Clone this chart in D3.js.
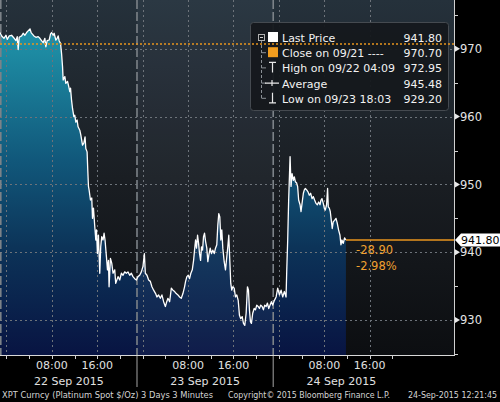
<!DOCTYPE html>
<html><head><meta charset="utf-8">
<script src="https://cdn.jsdelivr.net/npm/d3@7/dist/d3.min.js"></script>
<style>html,body{margin:0;padding:0;background:#000;} svg{display:block;font-family:"DejaVu Sans",sans-serif;}</style>
</head><body><svg id="c" width="500" height="402"></svg>
<script>
// hours since 22 Sep 2015 00:00
const hours=[-1.14,-0.84,-0.44,-0.09,0.14,0.49,0.91,1.32,1.67,1.90,2.07,2.25,2.67,2.95,3.25,3.55,4.15,4.35,4.54,4.84,5.19,5.59,5.89,6.19,6.47,6.77,6.94,7.17,7.53,7.77,7.95,8.23,8.40,8.70,8.93,9.11,9.28,9.53,9.71,9.88,9.99,10.29,10.46,10.76,10.99,11.16,11.29,11.46,11.64,11.74,11.87,12.04,12.22,12.45,12.62,12.92,13.10,13.40,13.63,13.85,13.98,14.21,14.33,14.45,14.56,14.80,15.03,15.16,15.33,15.56,15.74,15.86,16.03,16.21,16.44,16.61,16.79,17.02,17.20,17.37,17.62,17.80,17.97,18.08,18.32,18.55,18.78,19.08,19.25,19.66,19.96,20.25,20.54,20.83,21.13,21.41,21.71,22.01,22.29,22.59,22.89,23.17,23.47,23.77,24.05,24.30,24.47,24.76,25.05,25.35,25.63,25.93,26.28,26.51,26.81,27.11,27.39,27.69,28.00,28.17,28.45,28.75,29.05,29.33,29.63,29.92,30.21,30.51,30.80,31.09,31.38,31.56,31.79,32.03,32.26,32.49,32.74,32.97,33.14,33.32,33.49,33.67,33.85,34.02,34.20,34.37,34.55,34.72,34.90,35.08,35.30,35.48,35.66,35.90,36.13,36.36,36.61,36.83,37.06,37.24,37.41,37.59,37.77,37.94,38.12,38.36,38.59,38.82,39.00,39.17,39.35,39.52,39.70,39.88,40.12,40.35,40.58,40.83,41.05,41.28,41.53,41.76,41.99,42.23,42.46,42.64,42.81,42.99,43.16,43.39,43.64,43.87,44.10,44.34,44.57,44.80,45.05,45.27,45.50,45.75,45.98,46.21,46.45,46.68,46.91,47.21,47.51,47.79,48.09,48.39,48.67,48.96,49.26,49.37,49.55,49.72,49.97,50.14,50.32,50.55,50.72,50.90,51.13,51.30,51.48,51.73,51.90,52.08,52.31,52.48,52.66,52.89,53.13,53.36,53.59,53.84,54.07,54.29,54.54,54.77,55.00,55.24,55.42,55.59,55.82,56.00,56.17,56.40,56.58,56.70,56.88,57.05,57.23,57.40,57.58,57.81,58.06,58.28,58.51,58.76,58.93,59.11,59.34,59.57,59.81];
const prices=[972.4,971.9,971.55,972.0,971.4,971.9,972.0,971.6,971.2,971.8,969.9,971.7,971.9,972.3,972.0,972.4,972.95,972.4,972.2,971.9,971.7,971.8,971.55,971.2,970.9,971.55,970.3,971.2,971.3,972.2,972.4,972.0,972.3,971.3,971.55,971.9,971.2,970.8,969.3,967.4,965.4,965.9,964.9,965.2,964.4,963.7,964.2,962.5,961.2,960.7,960.0,960.2,959.2,959.5,958.5,958.0,957.3,955.8,956.1,957.0,955.3,954.8,952.1,949.7,949.2,947.7,948.0,945.0,946.5,943.8,941.8,943.3,939.8,942.5,936.9,940.8,942.3,941.8,942.8,941.8,939.3,937.4,938.8,934.9,939.1,938.4,936.9,937.4,935.4,936.4,935.9,936.9,936.6,937.1,936.9,937.1,936.6,936.9,936.4,936.1,935.9,936.4,936.6,937.1,937.9,939.8,936.9,936.6,935.9,935.7,934.9,934.4,933.9,933.4,933.7,933.2,933.7,932.7,932.0,932.5,933.2,932.7,934.7,934.4,934.2,933.9,933.7,933.4,933.2,933.9,934.9,935.7,936.4,936.6,936.1,936.9,937.4,938.8,940.3,941.8,940.6,942.5,941.3,939.8,938.8,940.8,940.3,942.3,942.8,941.6,940.6,938.6,939.6,940.6,939.8,940.3,939.8,940.6,941.1,944.0,945.7,945.2,941.8,943.3,940.6,938.6,937.4,939.3,940.8,942.5,938.8,935.4,934.4,934.9,934.7,933.4,933.7,932.9,930.7,930.2,930.5,929.5,929.2,931.0,934.9,934.4,931.5,929.75,929.5,931.0,931.7,931.5,932.2,932.0,931.7,932.2,932.0,931.5,932.2,932.0,932.5,931.7,932.2,932.7,932.2,932.9,933.4,934.7,933.7,934.4,933.4,934.2,933.4,936.9,941.8,947.7,954.1,949.7,951.6,950.6,951.1,950.4,950.2,949.7,947.7,947.0,946.0,947.2,948.7,949.2,949.4,949.2,948.9,948.4,948.7,947.9,948.2,947.7,947.2,947.0,947.4,947.0,947.7,947.9,947.2,946.5,946.2,947.0,949.4,946.7,946.5,946.0,944.7,943.5,944.5,944.7,945.0,944.3,943.3,942.5,941.1,941.8,941.3,942.1,941.8];
const yTicks=[930,940,950,960,970];
const yMinor=[925,935,945,955,965,975];
const sessionStarts=[-1,23,47];          // day boundaries (hours)
const sessionEnd=71;
const dayLabels=["22 Sep 2015","23 Sep 2015","24 Sep 2015"];
const hourLabels={8:"08:00",16:"16:00"};
const legendLabels=["Last Price","Close on 09/21 ----","High on 09/22 04:09","Average","Low on 09/23 18:03"];
const legendValues=["941.80","970.70","972.95","945.48","929.20"];
const lastPrice=941.80, prevClose=970.70;
const changeLabels=["-28.90","-2.98%"];
const footer=["XPT Curncy (Platinum Spot  $/Oz) 3 Days 3 Minutes","Copyright\u00a9 2015 Bloomberg Finance L.P.","24-Sep-2015 12:21:45"];

const t0=new Date(2015,8,22,0,0,0);
const T=h=>new Date(+t0+h*3600e3);
const W=454, H=355;
const x=d3.scaleTime().domain([T(-1.136),T(78.85)]).range([0,W]);
const y=d3.scaleLinear().domain([924.84,977.2]).range([H,0]);
const data=hours.map((h,i)=>({t:T(h),v:prices[i]}));

const svg=d3.select("#c");
svg.append("rect").attr("width",500).attr("height",402).attr("fill","#000");
const defs=svg.append("defs");
const bg=defs.append("linearGradient").attr("id","bg").attr("gradientUnits","userSpaceOnUse").attr("x1",0).attr("y1",0).attr("x2",0).attr("y2",H);
[[0,"#25313b"],[0.5,"#1a1e23"],[1,"#0c0e11"]].forEach(s=>bg.append("stop").attr("offset",s[0]).attr("stop-color",s[1]));
const ag=defs.append("linearGradient").attr("id","ag").attr("gradientUnits","userSpaceOnUse").attr("x1",0).attr("y1",0).attr("x2",0).attr("y2",H);
[[0,"#2398ae"],[0.15,"#1d8aa2"],[0.45,"#11587b"],[0.7,"#0c3358"],[1,"#081442"]].forEach(s=>ag.append("stop").attr("offset",s[0]).attr("stop-color",s[1]));

svg.append("rect").attr("x",0).attr("y",0).attr("width",W).attr("height",H).attr("fill","url(#bg)");

// area + line
svg.append("path").datum(data).attr("fill","url(#ag)")
  .attr("d",d3.area().x(d=>x(d.t)).y0(H).y1(d=>y(d.v)));
// day 2 shade
svg.append("rect").attr("x",x(T(sessionStarts[1]))).attr("y",0)
  .attr("width",x(T(sessionStarts[2]))-x(T(sessionStarts[1]))).attr("height",H)
  .attr("fill","rgb(160,170,210)").attr("opacity",0.06);

// grid
const grid=svg.append("g").attr("stroke","#6d737a").attr("stroke-width",1).attr("stroke-dasharray","2,3");
yTicks.forEach(v=>grid.append("line").attr("x1",0).attr("x2",W).attr("y1",Math.round(y(v))+0.5).attr("y2",Math.round(y(v))+0.5));
d3.timeHour.every(8).range(T(0),T(sessionEnd)).forEach(d=>{
  const xx=Math.round(x(d))+0.5;
  grid.append("line").attr("x1",xx).attr("x2",xx).attr("y1",0).attr("y2",H);
});
// session separators
sessionStarts.forEach(h=>{
  const xx=Math.max(0.8,x(T(h)));
  svg.append("line").attr("x1",xx).attr("x2",xx).attr("y1",0).attr("y2",H)
    .attr("stroke","#7c8288").attr("stroke-width",1.6).attr("stroke-dasharray","9,3");
  if(h>0) svg.append("line").attr("x1",xx).attr("x2",xx).attr("y1",H).attr("y2",387)
    .attr("stroke","#8a8a8a").attr("stroke-width",1.2);
});

svg.append("path").datum(data).attr("fill","none").attr("stroke","#fff").attr("stroke-width",1.3)
  .attr("stroke-linejoin","round").attr("d",d3.line().x(d=>x(d.t)).y(d=>y(d.v)));

// last price line
const last=data[data.length-1];
svg.append("line").attr("x1",x(last.t)).attr("x2",W).attr("y1",y(lastPrice)).attr("y2",y(lastPrice))
  .attr("stroke","#e8951e").attr("stroke-width",1.4);
changeLabels.forEach((s,i)=>svg.append("text").attr("x",356).attr("y",254+i*16).attr("fill","#f0a030")
  .attr("font-size",11.5).text(s));

// legend
const lg=svg.append("g");
lg.append("rect").attr("x",250.5).attr("y",22.5).attr("width",198).attr("height",88).attr("rx",3)
  .attr("fill","#15181c").attr("fill-opacity",0.95).attr("stroke","#454a50");
// previous close dotted line (above legend box)
svg.append("line").attr("x1",0).attr("x2",W).attr("y1",y(prevClose)).attr("y2",y(prevClose))
  .attr("stroke","#e8951e").attr("stroke-width",1.6).attr("stroke-dasharray","2,2");
const lg2=svg.append("g");
const rowY=i=>37+i*15.2;
lg2.append("line").attr("x1",261.5).attr("x2",261.5).attr("y1",40).attr("y2",rowY(4)+1)
  .attr("stroke","#8a8f95").attr("stroke-dasharray","3,2");
lg2.append("rect").attr("x",258.5).attr("y",34.5).attr("width",6).attr("height",6).attr("fill","#15181c").attr("stroke","#b0b0b0");
lg2.append("line").attr("x1",260).attr("x2",263).attr("y1",37.5).attr("y2",37.5).attr("stroke","#d0d0d0");
for(let i=1;i<5;i++) lg2.append("line").attr("x1",261.5).attr("x2",266).attr("y1",rowY(i)+0.5).attr("y2",rowY(i)+0.5).attr("stroke","#8a8f95");
lg2.append("rect").attr("x",268).attr("y",rowY(0)-5).attr("width",10).attr("height",10).attr("fill","#fff");
lg2.append("rect").attr("x",268).attr("y",rowY(1)-5).attr("width",10).attr("height",10).attr("fill","#f19d1f");
const sym=lg2.append("g").attr("stroke","#e8e8e8").attr("stroke-width",1.2).attr("fill","none");
sym.append("path").attr("d",`M269,${rowY(2)-5}H276M272.5,${rowY(2)-5}V${rowY(2)+5}`);
sym.append("path").attr("d",`M265,${rowY(3)+0.5}H279M272,${rowY(3)-2.5}V${rowY(3)+3.5}`);
sym.append("path").attr("d",`M272.5,${rowY(4)-5}V${rowY(4)+5}M269,${rowY(4)+5}H276`);
legendLabels.forEach((s,i)=>{
  lg2.append("text").attr("x",282).attr("y",rowY(i)+5).attr("fill","#f2f2f2").attr("font-size",11).text(s);
  lg2.append("text").attr("x",442).attr("y",rowY(i)+5).attr("text-anchor","end").attr("fill","#f2f2f2").attr("font-size",11).text(legendValues[i]);
});

// right axis
svg.append("line").attr("x1",W+0.5).attr("x2",W+0.5).attr("y1",0).attr("y2",H).attr("stroke","#d0d0d0");
yMinor.forEach(v=>svg.append("line").attr("x1",W).attr("x2",W+4).attr("y1",Math.round(y(v))+0.5).attr("y2",Math.round(y(v))+0.5).attr("stroke","#d0d0d0"));
yTicks.forEach(v=>{
  const yy=y(v);
  svg.append("path").attr("d",`M${W+1},${yy-3}L${W+6},${yy}L${W+1},${yy+3}Z`).attr("fill","#e8e8e8");
  svg.append("text").attr("x",W+6).attr("y",yy+4.2).attr("fill","#e4e4e4").attr("font-size",11.5).text(v);
});
// last price tag
const ly=y(lastPrice);
svg.append("path").attr("d",`M${W+1},${ly}L${W+7},${ly-6.5}H500V${ly+6.5}H${W+7}Z`).attr("fill","#fff");
svg.append("text").attr("x",W+7).attr("y",ly+4).attr("fill","#000").attr("font-size",11).text(lastPrice.toFixed(2));

// bottom axis
svg.append("line").attr("x1",0).attr("x2",W+1).attr("y1",H+0.5).attr("y2",H+0.5).attr("stroke","#d8d8d8");
d3.timeHour.every(4).range(T(0),T(sessionEnd)).forEach(d=>{
  const xx=Math.round(x(d))+0.5;
  svg.append("line").attr("x1",xx).attr("x2",xx).attr("y1",H).attr("y2",H+4).attr("stroke","#d0d0d0");
  const lab=hourLabels[d.getHours()];
  if(lab) svg.append("text").attr("x",x(d)).attr("y",369).attr("text-anchor","middle").attr("fill","#e0e0e0").attr("font-size",11).text(lab);
});
dayLabels.forEach((s,i)=>{
  const xm=(x(T(sessionStarts[i]))+x(T(sessionStarts[i]+24)))/2;
  svg.append("text").attr("x",xm).attr("y",385).attr("text-anchor","middle").attr("fill","#e0e0e0").attr("font-size",11).text(s);
});

// footer
const fx=[[2,211],[228,162],[408,89]];
footer.forEach((s,i)=>svg.append("text").attr("x",fx[i][0]).attr("y",398).attr("fill","#d4d4d4")
  .attr("font-size",8.3).attr("textLength",fx[i][1]).attr("lengthAdjust","spacingAndGlyphs").text(s));
</script></body></html>
